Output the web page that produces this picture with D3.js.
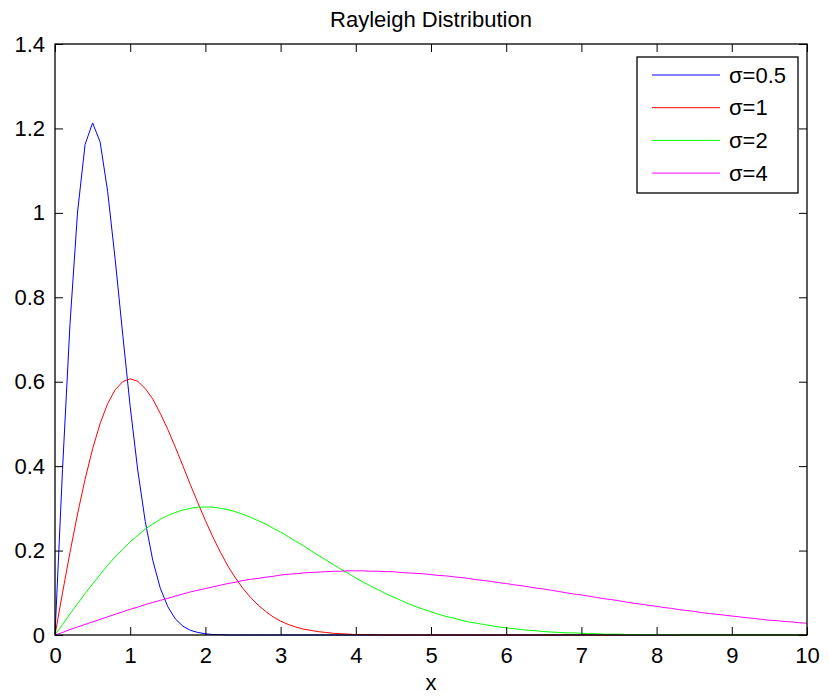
<!DOCTYPE html>
<html>
<head>
<meta charset="utf-8">
<script src="https://cdn.jsdelivr.net/npm/d3@7"></script>
<style>
  body { margin: 0; background: #fff; }
  svg { display: block; font-family: Arial, "Liberation Sans", sans-serif; }
</style>
</head>
<body>
<div id="chart"></div>
<script>
// x grid used by every curve (0 to 10, step 0.1)
const xValues = [
  0,0.1,0.2,0.3,0.4,0.5,0.6,0.7,0.8,0.9,1,1.1,1.2,1.3,1.4,1.5,1.6,1.7,1.8,1.9,
  2,2.1,2.2,2.3,2.4,2.5,2.6,2.7,2.8,2.9,3,3.1,3.2,3.3,3.4,3.5,3.6,3.7,3.8,3.9,
  4,4.1,4.2,4.3,4.4,4.5,4.6,4.7,4.8,4.9,5,5.1,5.2,5.3,5.4,5.5,5.6,5.7,5.8,5.9,
  6,6.1,6.2,6.3,6.4,6.5,6.6,6.7,6.8,6.9,7,7.1,7.2,7.3,7.4,7.5,7.6,7.7,7.8,7.9,
  8,8.1,8.2,8.3,8.4,8.5,8.6,8.7,8.8,8.9,9,9.1,9.2,9.3,9.4,9.5,9.6,9.7,9.8,9.9,10
];

const sigma05 = [
  0,0.392,0.738,1.002,1.162,1.213,1.168,1.051,0.890,0.713,0.541,0.391,0.269,0.177,0.111,0.067,0.038,0.021,0.011,0.006,
  0.003,0.001,0.001,0,0,0,0,0,0,0,0,0,0,0,0,0,0,0,0,0,
  0,0,0,0,0,0,0,0,0,0,0,0,0,0,0,0,0,0,0,0,
  0,0,0,0,0,0,0,0,0,0,0,0,0,0,0,0,0,0,0,0,
  0,0,0,0,0,0,0,0,0,0,0,0,0,0,0,0,0,0,0,0,0
];

const sigma1 = [
  0,0.100,0.196,0.287,0.369,0.441,0.501,0.548,0.581,0.600,0.607,0.601,0.584,0.559,0.525,0.487,0.445,0.401,0.356,0.313,
  0.271,0.232,0.196,0.163,0.135,0.110,0.089,0.071,0.056,0.043,0.033,0.025,0.019,0.014,0.011,0.008,0.006,0.004,0.003,0.002,
  0.001,0.001,0.001,0,0,0,0,0,0,0,0,0,0,0,0,0,0,0,0,0,
  0,0,0,0,0,0,0,0,0,0,0,0,0,0,0,0,0,0,0,0,
  0,0,0,0,0,0,0,0,0,0,0,0,0,0,0,0,0,0,0,0,0
];

const sigma2 = [
  0,0.025,0.050,0.074,0.098,0.121,0.143,0.165,0.185,0.203,0.221,0.236,0.251,0.263,0.274,0.283,0.290,0.296,0.300,0.303,
  0.303,0.303,0.300,0.297,0.292,0.286,0.279,0.271,0.263,0.253,0.244,0.233,0.222,0.212,0.200,0.189,0.178,0.167,0.156,0.146,
  0.135,0.125,0.116,0.107,0.098,0.090,0.082,0.074,0.067,0.061,0.055,0.049,0.044,0.040,0.035,0.031,0.028,0.025,0.022,0.019,
  0.017,0.015,0.013,0.011,0.010,0.008,0.007,0.006,0.005,0.005,0.004,0.003,0.003,0.002,0.002,0.002,0.001,0.001,0.001,0.001,
  0.001,0.001,0.001,0,0,0,0,0,0,0,0,0,0,0,0,0,0,0,0,0,0
];

const sigma4 = [
  0,0.006,0.013,0.019,0.025,0.031,0.037,0.043,0.049,0.055,0.061,0.066,0.072,0.077,0.082,0.087,0.092,0.097,0.102,0.106,
  0.110,0.114,0.118,0.122,0.125,0.129,0.132,0.134,0.137,0.139,0.142,0.144,0.145,0.147,0.148,0.149,0.150,0.151,0.151,0.152,
  0.152,0.152,0.151,0.151,0.150,0.150,0.148,0.147,0.146,0.145,0.143,0.141,0.140,0.138,0.136,0.134,0.131,0.129,0.127,0.124,
  0.122,0.119,0.117,0.114,0.111,0.109,0.106,0.103,0.100,0.097,0.095,0.092,0.089,0.086,0.084,0.081,0.078,0.075,0.073,0.070,
  0.068,0.065,0.063,0.060,0.058,0.056,0.053,0.051,0.049,0.047,0.045,0.043,0.041,0.039,0.037,0.035,0.034,0.032,0.031,0.029,0.028
];

const seriesNames = ["σ=0.5", "σ=1", "σ=2", "σ=4"];
const seriesValues = [sigma05, sigma1, sigma2, sigma4];
const seriesColors = ["#0000ff", "#ff0000", "#00ff00", "#ff00ff"];

const xTicks = [0,1,2,3,4,5,6,7,8,9,10];
const yTicks = [0,0.2,0.4,0.6,0.8,1,1.2,1.4];

const W = 829, H = 697;
const margin = {top: 44, right: 22, bottom: 62, left: 55};
const plotW = W - margin.left - margin.right,
  plotH = H - margin.top - margin.bottom;
const fontSize = "22px";

const svg = d3.select("#chart")
  .append("svg")
  .attr("width", W)
  .attr("height", H);

const x = d3.scaleLinear().domain([0, 10]).range([0, plotW]);
const y = d3.scaleLinear().domain([0, 1.4]).range([plotH, 0]);

const g = svg.append("g")
  .attr("transform", "translate(" + margin.left + "," + margin.top + ")");

// Curves
const line = d3.line()
  .x((d, i) => x(xValues[i]))
  .y(d => y(d));

g.selectAll(".curve")
  .data(seriesValues)
  .enter()
  .append("path")
  .attr("class", "curve")
  .attr("fill", "none")
  .attr("stroke", (d, i) => seriesColors[i])
  .attr("stroke-width", 1)
  .attr("d", line);

// Axes, ticks pointing inward, mirrored on top and right
const tickLen = 8;
const bottomAxis = d3.axisBottom(x).tickValues(xTicks).tickSizeInner(-tickLen).tickSizeOuter(0).tickPadding(12);
const topAxis = d3.axisTop(x).tickValues(xTicks).tickSizeInner(-tickLen).tickSizeOuter(0).tickFormat("");
const leftAxis = d3.axisLeft(y).tickValues(yTicks).tickSizeInner(-tickLen).tickSizeOuter(0).tickPadding(10)
  .tickFormat(d => d3.format("")(+d.toFixed(1)));
const rightAxis = d3.axisRight(y).tickValues(yTicks).tickSizeInner(-tickLen).tickSizeOuter(0).tickFormat("");

function styleAxis(sel) {
  sel.select(".domain").remove();
  sel.selectAll(".tick line").attr("stroke", "#000");
  sel.selectAll("text")
    .attr("fill", "#000")
    .style("font-size", fontSize)
    .style("font-family", "Arial, 'Liberation Sans', sans-serif");
}

g.append("g").attr("transform", "translate(0," + plotH + ")").call(bottomAxis).call(styleAxis);
g.append("g").call(topAxis).call(styleAxis);
g.append("g").call(leftAxis).call(styleAxis);
g.append("g").attr("transform", "translate(" + plotW + ",0)").call(rightAxis).call(styleAxis);

// Box
g.append("rect")
  .attr("x", 0)
  .attr("y", 0)
  .attr("width", plotW)
  .attr("height", plotH)
  .attr("fill", "none")
  .attr("stroke", "#000")
  .attr("stroke-width", 1.3);

// Title and x label
svg.append("text")
  .attr("x", margin.left + plotW / 2)
  .attr("y", 27)
  .attr("text-anchor", "middle")
  .style("font-size", fontSize)
  .text("Rayleigh Distribution");

svg.append("text")
  .attr("x", margin.left + plotW / 2)
  .attr("y", 690)
  .attr("text-anchor", "middle")
  .style("font-size", fontSize)
  .text("x");

// Legend
const legend = svg.append("g").attr("transform", "translate(637,57)");
legend.append("rect")
  .attr("width", 161)
  .attr("height", 136)
  .attr("fill", "#fff")
  .attr("stroke", "#000")
  .attr("stroke-width", 1.3);

const rows = legend.selectAll(".row")
  .data(seriesNames)
  .enter()
  .append("g")
  .attr("class", "row")
  .attr("transform", (d, i) => "translate(0," + (18 + i * 32.7) + ")");

rows.append("line")
  .attr("x1", 15)
  .attr("x2", 83)
  .attr("stroke", (d, i) => seriesColors[i])
  .attr("stroke-width", 1);

rows.append("text")
  .attr("x", 92)
  .attr("dy", "0.35em")
  .style("font-size", fontSize)
  .text(d => d);
</script>
</body>
</html>
